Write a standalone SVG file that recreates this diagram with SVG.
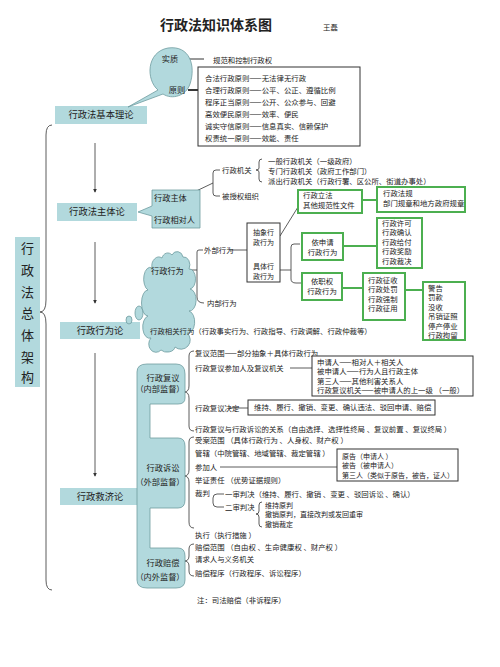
<svg xmlns="http://www.w3.org/2000/svg" width="500" height="667" viewBox="0 0 500 667">
<defs>
<style>
text{font-family:"Noto Sans CJK SC","Noto Sans CJK JP",sans-serif;fill:#222}
.t{font-size:7.4px}
.s{font-size:7px}
.h{font-size:9.3px}
.m{font-size:8.2px}
.c{text-anchor:middle}
.lb{fill:#b2d9dd}
.lbs{fill:#b2d9dd;stroke:#6f9ca0;stroke-width:0.8}
.ln{fill:none;stroke:#333;stroke-width:0.8}
.gb{fill:#fff;stroke:#4caf50;stroke-width:2}
.gl{stroke:#4caf50;stroke-width:2;fill:none}
.bx{fill:#fff;stroke:#333;stroke-width:1}
</style>
<marker id="ah" viewBox="0 0 6 6" refX="5" refY="3" markerWidth="5" markerHeight="5" orient="auto">
<path d="M0,0 L6,3 L0,6 Z" fill="#333"/>
</marker>
</defs>
<rect width="500" height="667" fill="#fff"/>

<g id="title">
<text x="160" y="30" style="font-size:14px;font-weight:bold">行政法知识体系图</text>
<text x="323" y="30" class="t">王磊</text>
</g>

<g id="connectors">
<path class="ln" d="M52,125 Q46,125 46,135 V300 Q46,312 40,312 Q46,312 46,324 V580 Q46,590 52,590"/>
<line class="ln" x1="95" y1="143" x2="95" y2="192" marker-end="url(#ah)"/>
<line class="ln" x1="95" y1="242" x2="95" y2="303" marker-end="url(#ah)"/>
<line class="ln" x1="95" y1="353" x2="95" y2="476" marker-end="url(#ah)"/>
<line x1="189" y1="59" x2="204" y2="59" stroke="#333" stroke-width="1"/>
<line x1="188" y1="90" x2="198" y2="90" stroke="#222" stroke-width="1.8"/>
<line class="ln" x1="190" y1="194" x2="213" y2="183"/>
<path class="ln" d="M220,170 H216 Q213,170 213,173 V193 Q213,196 216,196 H220"/>
<path class="ln" d="M262,159 Q259,159 259,162 V168 Q259,170 256,170 Q259,170 259,172 V179 Q259,182 262,182"/>
<line class="ln" x1="188" y1="270" x2="197" y2="270"/>
<path class="ln" d="M203,250 H199 Q197,250 197,252 V297 Q197,303 204,303"/>
<line class="ln" x1="230" y1="250" x2="247" y2="250"/>
<line class="ln" x1="280" y1="236" x2="298" y2="207"/>
<line class="ln" x1="280" y1="270" x2="291" y2="270"/>
<path class="ln" d="M300,244 H294 Q291,244 291,247 V279 Q291,283 296,283 H302"/>
<line class="gl" x1="362" y1="200" x2="377" y2="200"/>
<line class="gl" x1="343" y1="246" x2="377" y2="246"/>
<line class="gl" x1="342" y1="288" x2="363" y2="288"/>
<line class="gl" x1="405" y1="290" x2="423" y2="290"/>
<path class="ln" d="M194,351 Q189,351 189,356 V386 Q189,392 184,392 Q189,392 189,398 V426 Q189,431 194,431"/>
<line class="ln" x1="290" y1="368" x2="312" y2="368"/>
<line class="ln" x1="229" y1="408" x2="248" y2="408"/>
<path class="ln" d="M194,437 Q189,437 189,442 V470 Q189,476 184,476 Q189,476 189,482 V522 Q189,528 194,528"/>
<line class="ln" x1="220" y1="467" x2="337" y2="467"/>
<path class="ln" d="M224,494 H217 Q213,494 213,498 V503 Q213,507 217,507 H224"/>
<path class="ln" d="M262,502 Q259,502 259,505 V511 Q259,514 256,514 Q259,514 259,517 V524 Q259,527 262,527"/>
<path class="ln" d="M194,544 Q189,544 189,549 V556 Q189,561 184,561 Q189,561 189,566 V571 Q189,576 194,576"/>
</g>

<g id="n-vertical">
<rect class="lb" x="15" y="237" width="25" height="150"/>
<g style="font-size:13px" text-anchor="middle">
<text x="27.5" y="253">行</text>
<text x="27.5" y="275">政</text>
<text x="27.5" y="297">法</text>
<text x="27.5" y="318">总</text>
<text x="27.5" y="340">体</text>
<text x="27.5" y="362">架</text>
<text x="27.5" y="382">构</text>
</g>
</g>

<g id="n-basic">
<rect class="lb" x="55" y="106" width="92" height="18"/>
<text x="101" y="118.4" class="h c">行政法基本理论</text>
</g>
<g id="n-subject-theory">
<rect class="lb" x="57" y="203" width="80" height="18"/>
<text x="97" y="215.3" class="h c">行政法主体论</text>
</g>
<g id="n-act-theory">
<rect class="lb" x="60" y="322" width="80" height="17"/>
<text x="100" y="333.5" class="h c">行政行为论</text>
</g>
<g id="n-remedy-theory">
<rect class="lb" x="60" y="488" width="80" height="17"/>
<text x="100" y="499.5" class="h c">行政救济论</text>
</g>

<g id="n-essence">
<path class="lbs" d="M158,90 C146,80 146,52 168,48 C190,45 196,66 190,84 C186,96 172,100 163,94 L128,107 Z"/>
<text x="170" y="62" class="m c">实质</text>
<text x="177" y="93" class="m c">原则</text>
<text x="213" y="62.5" class="t">规范和控制行政权</text>
</g>

<g id="n-principles">
<rect class="bx" x="198" y="67" width="162" height="79"/>
<text x="205" y="80.7" class="t">合法行政原则——无法律无行政</text>
<text x="205" y="92.7" class="t">合理行政原则——公平、公正、遵循比例</text>
<text x="205" y="104.7" class="t">程序正当原则——公开、公众参与、回避</text>
<text x="205" y="116.7" class="t">高效便民原则——效率、便民</text>
<text x="205" y="128.7" class="t">诚实守信原则——信息真实、信赖保护</text>
<text x="205" y="140.7" class="t">权责统一原则——效能、责任</text>
</g>

<g id="n-subject">
<path class="lbs" d="M152,190 H200 V228 H152 V216 L138,212 L152,206 Z"/>
<text x="154" y="201" class="m">行政主体</text>
<text x="154" y="223" class="m">行政相对人</text>
</g>

<g id="n-organs">
<text x="222" y="172.7" class="t">行政机关</text>
<text x="222" y="198.7" class="t">被授权组织</text>
<text x="268" y="163.7" class="t">一般行政机关（一级政府）</text>
<text x="268" y="173.7" class="t">专门行政机关（政府工作部门）</text>
<text x="268" y="183.7" class="t">派出行政机关（行政行署、区公所、街道办事处）</text>
</g>

<g id="n-act-cloud">
<ellipse class="lbs" cx="129" cy="320" rx="3" ry="4"/>
<ellipse class="lbs" cx="139" cy="313" rx="4" ry="7"/>
<path class="lbs" d="M152,268 a7,9 0 0 1 10,-10 a6,7 0 0 1 10,-3 a6,7 0 0 1 11,2 a6,8 0 0 1 6,12 a6,10 0 0 1 1,20 a6,10 0 0 1 -1,22 a6,10 0 0 1 -2,22 a8,8 0 0 1 -12,14 a8,6 0 0 1 -14,3 a7,8 0 0 1 -10,-12 a6,10 0 0 1 -3,-22 a6,12 0 0 1 0,-26 a6,11 0 0 1 4,-22 Z"/>
<text x="151" y="274" class="m">行政行为</text>
<text x="150" y="333.7" class="t">行政相关行为（行政事实行为、行政指导、行政调解、行政仲裁等）</text>
<text x="204" y="252.7" class="t">外部行为</text>
<text x="207" y="305.7" class="t">内部行为</text>
</g>

<g id="n-abstract-concrete">
<rect class="bx" x="247" y="223" width="33" height="59"/>
<text x="263.5" y="234.5" class="s c">抽象行</text>
<text x="263.5" y="244.5" class="s c">政行为</text>
<text x="263.5" y="268.5" class="s c">具体行</text>
<text x="263.5" y="278.5" class="s c">政行为</text>
</g>

<g id="n-legislation">
<rect class="gb" x="298" y="190" width="64" height="23"/>
<text x="303" y="198" class="t">行政立法</text>
<text x="303" y="208" class="t">其他规范性文件</text>
</g>
<g id="n-regulations">
<rect class="gb" x="377" y="187" width="88" height="25"/>
<text x="383" y="196" class="t">行政法规</text>
<text x="383" y="206" class="t">部门规章和地方政府规章</text>
</g>
<g id="n-apply">
<rect class="gb" x="302" y="233" width="41" height="27"/>
<text x="322.5" y="244.5" class="t c">依申请</text>
<text x="322.5" y="254.5" class="t c">行政行为</text>
</g>
<g id="n-apply-list">
<rect class="gb" x="377" y="218" width="45" height="50"/>
<text x="382" y="225.7" class="t">行政许可</text>
<text x="382" y="235.2" class="t">行政确认</text>
<text x="382" y="244.7" class="t">行政给付</text>
<text x="382" y="254.2" class="t">行政奖励</text>
<text x="382" y="263.7" class="t">行政裁决</text>
</g>
<g id="n-duty">
<rect class="gb" x="302" y="273" width="40" height="27"/>
<text x="322" y="283.5" class="t c">依职权</text>
<text x="322" y="293.5" class="t c">行政行为</text>
</g>
<g id="n-duty-list">
<rect class="gb" x="363" y="273" width="42" height="47"/>
<text x="368" y="282.7" class="t">行政征收</text>
<text x="368" y="292.2" class="t">行政处罚</text>
<text x="368" y="301.7" class="t">行政强制</text>
<text x="368" y="311.2" class="t">行政征用</text>
</g>
<g id="n-penalty-list">
<rect class="gb" x="423" y="282" width="42" height="58"/>
<text x="428" y="290.7" class="t">警告</text>
<text x="428" y="300.2" class="t">罚款</text>
<text x="428" y="309.7" class="t">没收</text>
<text x="428" y="319.2" class="t">吊销证照</text>
<text x="428" y="328.7" class="t">停产停业</text>
<text x="428" y="338.2" class="t">行政拘留</text>
</g>

<g id="n-remedy-shape">
<path class="lbs" d="M137,578 V372 Q137,364 147,364 H176 Q185,364 185,374 V398 Q185,404 178,404 H150 V438 H178 Q185,438 185,446 V500 Q185,508 178,508 H150 V548 H178 Q185,548 185,556 V580 Q185,588 176,588 H147 Q137,588 137,580 Z"/>
<text x="163" y="381" class="m c">行政复议</text>
<text x="160" y="392" class="m c">（内部监督）</text>
<text x="163" y="471" class="m c">行政诉讼</text>
<text x="160" y="485" class="m c">（外部监督）</text>
<text x="163" y="566" class="m c">行政赔偿</text>
<text x="160" y="580" class="m c">（内外监督）</text>
</g>

<g id="n-review">
<text x="195" y="355.7" class="t">复议范围——部分抽象＋具体行政行为</text>
<text x="195" y="370.7" class="t">行政复议参加人及复议机关</text>
<text x="195" y="410.7" class="t">行政复议决定</text>
<text x="195" y="431.7" class="t">行政复议与行政诉讼的关系（自由选择、选择性终局 、复议前置 、复议终局 ）</text>
</g>
<g id="n-review-parties">
<rect class="bx" x="312" y="356" width="161" height="40"/>
<text x="317" y="364.7" class="t">申请人——相对人＋相关人</text>
<text x="317" y="374.2" class="t">被申请人——行为人且行政主体</text>
<text x="317" y="383.7" class="t">第三人——其他利害关系人</text>
<text x="317" y="393.2" class="t">行政复议机关——被申请人的上一级 （一般）</text>
</g>
<g id="n-review-decision">
<rect class="bx" x="248" y="400" width="187" height="15"/>
<text x="254" y="410.2" class="t">维持、履行、撤销、变更、确认违法、驳回申请、赔偿</text>
</g>

<g id="n-litigation">
<text x="195" y="442.7" class="t">受案范围 （具体行政行为 、人身权、财产权 ）</text>
<text x="195" y="455.7" class="t">管辖（中院管辖、地域管辖、裁定管辖 ）</text>
<text x="195" y="469.7" class="t">参加人</text>
<text x="195" y="482.7" class="t">举证责任 （优势证据规则）</text>
<text x="195" y="495.7" class="t">裁判</text>
<text x="225" y="496.7" class="t">一审判决（维持、履行、撤销 、变更 、驳回诉讼 、确认）</text>
<text x="225" y="509.7" class="t">二审判决</text>
<text x="265" y="507.5" class="s">维持原判</text>
<text x="265" y="517.3" class="s">撤销原判，直接改判或发回重审</text>
<text x="265" y="527.1" class="s">撤销裁定</text>
<text x="195" y="537.7" class="t">执行（执行措施 ）</text>
</g>
<g id="n-litigation-parties">
<rect class="bx" x="337" y="449" width="121" height="32"/>
<text x="342" y="458.5" class="s">原告（申请人 ）</text>
<text x="342" y="468" class="s">被告（被申请人）</text>
<text x="342" y="477.5" class="s">第三人（类似于原告，被告，证人）</text>
</g>

<g id="n-compensation">
<text x="195" y="549.7" class="t">赔偿范围 （自由权 、生命健康权 、财产权 ）</text>
<text x="195" y="561.7" class="t">请求人与义务机关</text>
<text x="195" y="575.7" class="t">赔偿程序（行政程序、诉讼程序）</text>
<text x="197" y="602.7" class="t">注：司法赔偿（非诉程序）</text>
</g>
</svg>
